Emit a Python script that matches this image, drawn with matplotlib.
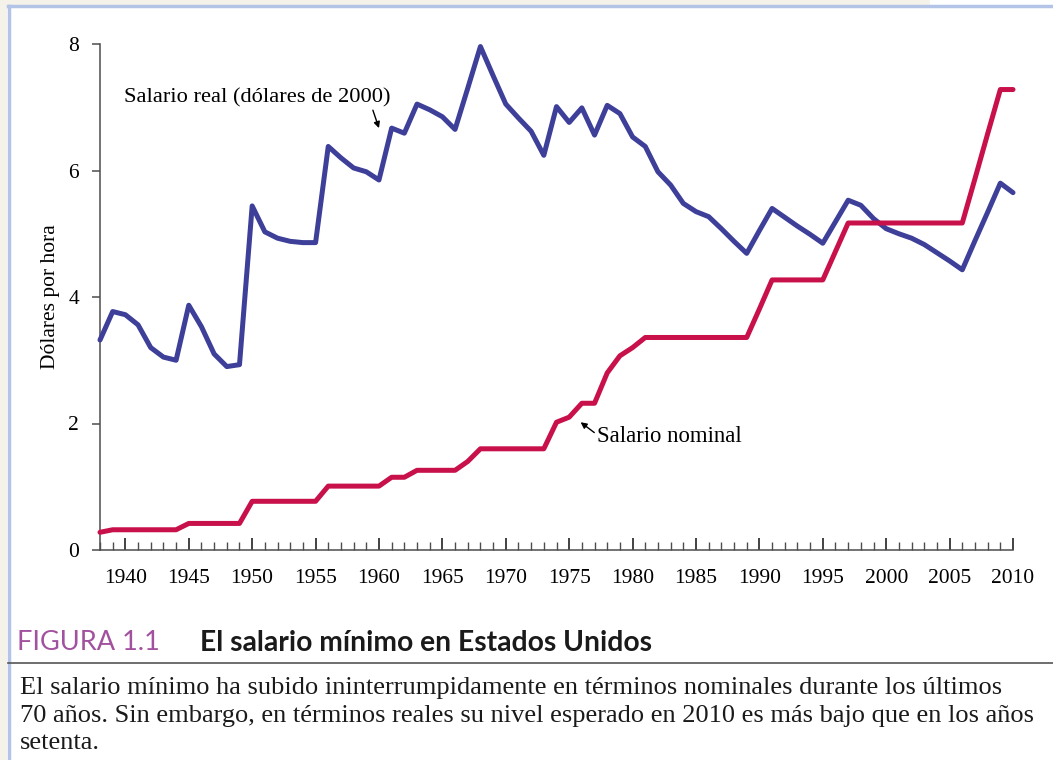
import numpy as np
import matplotlib.pyplot as plt
from matplotlib.patches import Rectangle
from matplotlib.lines import Line2D
from matplotlib.ticker import MultipleLocator

plt.rcParams['font.family'] = ['Liberation Serif', 'DejaVu Serif']

# datos (dolares por hora)
years = np.arange(1938, 2011)
salario_real = [3.32, 3.77, 3.72, 3.56, 3.20, 3.05, 3.00, 3.87, 3.53, 3.10,
                2.90, 2.93, 5.44, 5.03, 4.93, 4.88, 4.86, 4.86, 6.38, 6.20,
                6.04, 5.98, 5.85, 6.67, 6.59, 7.05, 6.96, 6.85, 6.65, 7.30,
                7.96, 7.50, 7.05, 6.83, 6.62, 6.24, 7.01, 6.76, 6.99, 6.56,
                7.03, 6.90, 6.53, 6.38, 5.98, 5.77, 5.48, 5.35, 5.27, 5.08,
                4.88, 4.69, 5.05, 5.40, 5.26, 5.12, 4.99, 4.85, 5.19, 5.53,
                5.45, 5.24, 5.08, 5.00, 4.93, 4.83, 4.70, 4.57, 4.43, 4.89,
                5.34, 5.80, 5.65]
salario_nominal = ([0.28] + [0.32] * 6 + [0.42] * 5 + [0.77] * 6 + [1.01] * 5
                   + [1.15] * 2 + [1.26] * 4 + [1.40] + [1.60] * 6 + [2.02, 2.10]
                   + [2.32] * 2 + [2.80, 3.07, 3.20] + [3.36] * 9 + [3.81]
                   + [4.27] * 5 + [4.72] + [5.17] * 10 + [5.87, 6.58] + [7.28] * 2)

azul = '#3d3f99'
rojo = '#c8104b'
gris = '#4d4d4d'

fig = plt.figure(figsize=(10.53, 7.6), dpi=100)
fig.patch.set_facecolor('white')

# marco de la pagina
fig.add_artist(Rectangle((0, 1 - 5 / 760), 930 / 1053, 5 / 760, transform=fig.transFigure,
                         facecolor='#f5f2ea', edgecolor='none'))
fig.add_artist(Rectangle((0, 0), 7 / 1053, 1, transform=fig.transFigure,
                         facecolor='#f5f2ea', edgecolor='none'))
fig.add_artist(Line2D([8 / 1053, 1], [1 - 6 / 760, 1 - 6 / 760], transform=fig.transFigure,
                      color='#b4c4e6', lw=2.5))
fig.add_artist(Line2D([8.5 / 1053, 8.5 / 1053], [0, 1 - 6 / 760], transform=fig.transFigure,
                      color='#b4c4e6', lw=2.5))

ax = fig.add_axes([100 / 1053, 1 - 550 / 760, 913 / 1053, 506 / 760])
ax.plot(years, salario_real, color=azul, lw=3.6, solid_joinstyle='round',
        solid_capstyle='round', clip_on=False, zorder=3)
ax.plot(years, salario_nominal, color=rojo, lw=3.6, solid_joinstyle='round',
        solid_capstyle='round', clip_on=False, zorder=3)

ax.set_xlim(1938, 2010)
ax.set_ylim(0, 8)
for s in ['top', 'right']:
    ax.spines[s].set_visible(False)
for s in ['left', 'bottom']:
    ax.spines[s].set_color(gris)
    ax.spines[s].set_linewidth(1.1)

ax.set_yticks([0, 2, 4, 6, 8])
ax.set_xticks(np.arange(1940, 2011, 5))
ax.xaxis.set_minor_locator(MultipleLocator(1))
ax.tick_params(axis='y', direction='out', length=6, width=1.1, color=gris,
               labelsize=15.5, pad=9)
ax.tick_params(axis='x', which='major', direction='in', length=9, width=1.2,
               color='#222222', labelsize=15.5, pad=14)
ax.tick_params(axis='x', which='minor', direction='in', length=6, width=1.0,
               color=gris)
ax.set_ylabel('Dólares por hora', fontsize=15.5, labelpad=6)

ax.annotate('Salario real (dólares de 2000)', xy=(1960.0, 6.67), xytext=(1939.9, 7.15),
            fontsize=16.2, va='center', ha='left',
            arrowprops=dict(arrowstyle='-|>', color='black', lw=1.0,
                            mutation_scale=9, shrinkA=0, shrinkB=0,
                            relpos=(0.93, 0.0)))
ax.annotate('Salario nominal', xy=(1975.9, 2.02), xytext=(1977.2, 1.79),
            fontsize=16.4, va='center', ha='left',
            arrowprops=dict(arrowstyle='-|>', color='black', lw=1.0,
                            mutation_scale=9, shrinkA=0, shrinkB=0,
                            relpos=(0.0, 0.6)))

# pie de figura
fig.text(17 / 1053, 1 - 643 / 760, 'FIGURA 1.1', color='#a2519f', fontsize=19.5,
         family='Lato', va='center', ha='left')
fig.text(200 / 1053, 1 - 643 / 760, 'El salario mínimo en Estados Unidos', color='#1a1a1a',
         fontsize=20.3, family='Lato', weight='bold', va='center', ha='left')
fig.add_artist(Line2D([8 / 1053, 1], [1 - 663 / 760, 1 - 663 / 760], transform=fig.transFigure,
                      color='#555555', lw=1.2))
texto = ('El salario mínimo ha subido ininterrumpidamente en términos nominales durante los últimos\n'
         '70 años. Sin embargo, en términos reales su nivel esperado en 2010 es más bajo que en los años\n'
         'setenta.')
fig.text(20 / 1053, 1 - 677 / 760, texto, fontsize=19.0, va='top', ha='left',
         linespacing=1.33, color='#1a1a1a')

fig.savefig('out.png', dpi=100)
